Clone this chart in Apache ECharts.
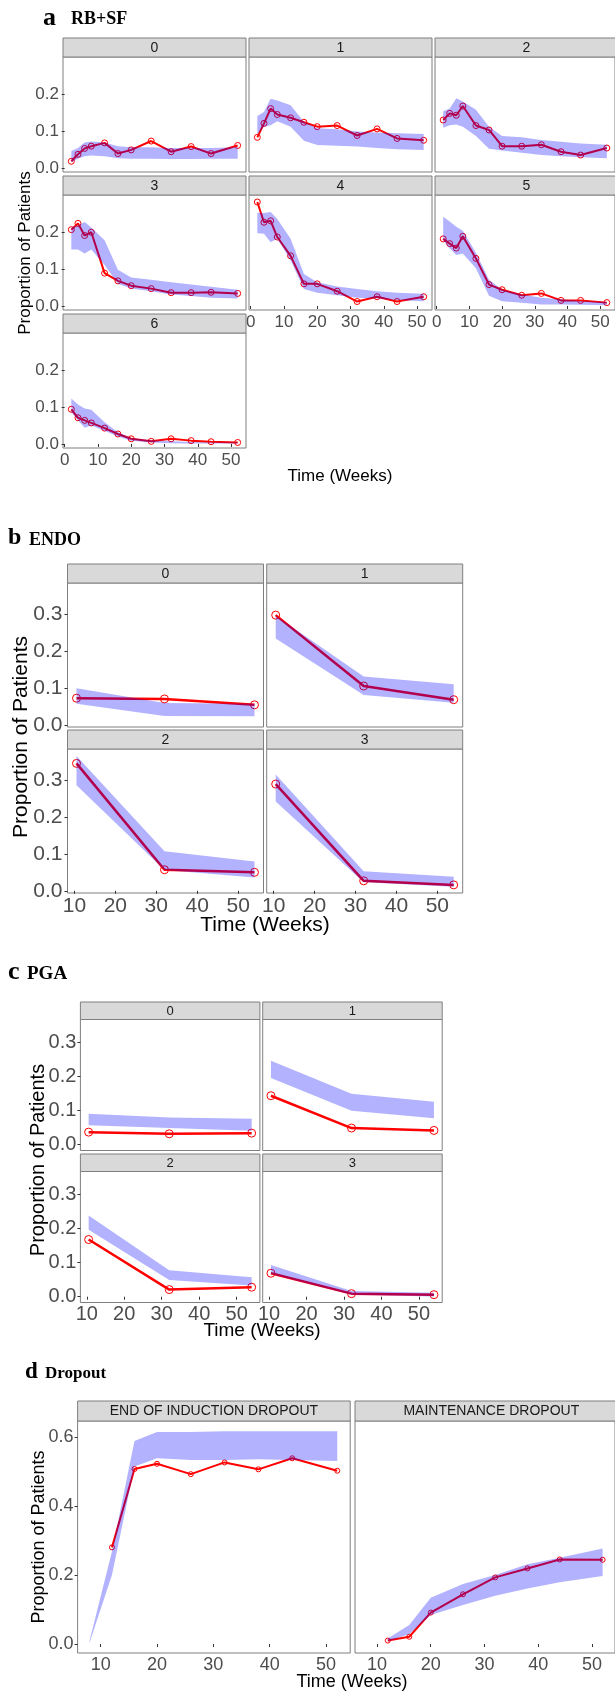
<!DOCTYPE html>
<html><head><meta charset="utf-8">
<script src="https://cdn.jsdelivr.net/npm/echarts@6/dist/echarts.min.js"></script>
<style>html,body{margin:0;padding:0;background:#fff}#c{width:615px;height:1692px}</style>
</head><body><div id="c"></div>
<script>
// ---------------- DATA ----------------
const rbsfWeeks = [2, 4, 6, 8, 12, 16, 20, 26, 32, 38, 44, 52];
const rbsfFacets = ['0', '1', '2', '3', '4', '5', '6'];
const rbsfObs = [
  [0.018, 0.037, 0.053, 0.059, 0.068, 0.039, 0.049, 0.073, 0.044, 0.058, 0.039, 0.061],
  [0.083, 0.121, 0.161, 0.145, 0.136, 0.124, 0.112, 0.115, 0.088, 0.106, 0.080, 0.075],
  [0.130, 0.148, 0.143, 0.168, 0.115, 0.103, 0.059, 0.059, 0.063, 0.044, 0.035, 0.054],
  [0.207, 0.224, 0.191, 0.200, 0.089, 0.068, 0.055, 0.047, 0.036, 0.036, 0.037, 0.034],
  [0.282, 0.227, 0.231, 0.187, 0.136, 0.060, 0.060, 0.040, 0.012, 0.025, 0.012, 0.025],
  [0.182, 0.169, 0.157, 0.189, 0.129, 0.058, 0.044, 0.029, 0.034, 0.015, 0.015, 0.009],
  [0.094, 0.071, 0.064, 0.057, 0.043, 0.027, 0.014, 0.007, 0.014, 0.009, 0.006, 0.004]
];
const rbsfLo = [
  [0.015, 0.025, 0.032, 0.034, 0.032, 0.026, 0.025, 0.025, 0.024, 0.024, 0.025, 0.025],
  [0.092, 0.112, 0.116, 0.127, 0.112, 0.074, 0.062, 0.060, 0.058, 0.054, 0.051, 0.049],
  [0.109, 0.116, 0.118, 0.112, 0.087, 0.052, 0.047, 0.041, 0.035, 0.032, 0.029, 0.026],
  [0.153, 0.153, 0.142, 0.153, 0.111, 0.060, 0.047, 0.040, 0.031, 0.027, 0.022, 0.020],
  [0.197, 0.196, 0.173, 0.182, 0.124, 0.046, 0.036, 0.029, 0.022, 0.020, 0.016, 0.013],
  [0.178, 0.156, 0.138, 0.142, 0.102, 0.028, 0.013, 0.009, 0.004, 0.004, 0.003, 0.002],
  [0.086, 0.064, 0.044, 0.050, 0.036, 0.020, 0.009, 0.004, 0.002, 0.001, 0.001, 0.001]
];
const rbsfHi = [
  [0.046, 0.054, 0.069, 0.072, 0.069, 0.059, 0.056, 0.056, 0.054, 0.054, 0.054, 0.056],
  [0.141, 0.152, 0.188, 0.183, 0.170, 0.125, 0.108, 0.105, 0.099, 0.096, 0.094, 0.092],
  [0.154, 0.161, 0.189, 0.180, 0.158, 0.112, 0.087, 0.083, 0.076, 0.071, 0.066, 0.063],
  [0.213, 0.218, 0.228, 0.213, 0.178, 0.098, 0.077, 0.071, 0.064, 0.058, 0.052, 0.044],
  [0.253, 0.252, 0.255, 0.236, 0.182, 0.087, 0.064, 0.053, 0.046, 0.040, 0.036, 0.033],
  [0.242, 0.229, 0.215, 0.204, 0.144, 0.071, 0.044, 0.031, 0.022, 0.018, 0.013, 0.011],
  [0.123, 0.107, 0.096, 0.093, 0.059, 0.032, 0.016, 0.010, 0.007, 0.005, 0.004, 0.004]
];

const endoWeeks = [10.5, 32, 54];
const endoFacets = ['0', '1', '2', '3'];
const endoObs = [[0.072, 0.070, 0.054], [0.297, 0.105, 0.068], [0.345, 0.057, 0.050], [0.289, 0.027, 0.016]];
const endoLo  = [[0.057, 0.024, 0.023], [0.234, 0.081, 0.060], [0.286, 0.056, 0.036], [0.242, 0.023, 0.011]];
const endoHi  = [[0.099, 0.059, 0.057], [0.295, 0.131, 0.110], [0.365, 0.107, 0.079], [0.315, 0.053, 0.038]];

const pgaWeeks = [10.5, 32, 54];
const pgaFacets = ['0', '1', '2', '3'];
const pgaObs = [[0.037, 0.032, 0.034], [0.144, 0.049, 0.042], [0.168, 0.021, 0.028], [0.069, 0.009, 0.006]];
const pgaLo  = [[0.057, 0.049, 0.041], [0.196, 0.100, 0.078], [0.197, 0.049, 0.033], [0.067, 0.006, 0.001]];
const pgaHi  = [[0.091, 0.080, 0.076], [0.247, 0.150, 0.126], [0.239, 0.078, 0.057], [0.093, 0.017, 0.012]];

const dropFacets = ['END OF INDUCTION DROPOUT', 'MAINTENANCE DROPOUT'];
const dropObsWeeks = [12, 16, 20, 26, 32, 38, 44, 52];
const dropObs = [
  [0.280, 0.507, 0.522, 0.492, 0.526, 0.506, 0.538, 0.502],
  [0.010, 0.021, 0.091, 0.144, 0.193, 0.219, 0.245, 0.244]
];
const dropBandWeeks = [[8, 12, 16, 20, 26, 32, 38, 44, 52], [12, 16, 20, 26, 32, 38, 44, 52]];
const dropLo = [
  [0.003, 0.200, 0.514, 0.538, 0.533, 0.533, 0.535, 0.533, 0.530],
  [0.007, 0.029, 0.084, 0.113, 0.140, 0.161, 0.179, 0.197]
];
const dropHi = [
  [0.008, 0.268, 0.588, 0.614, 0.614, 0.616, 0.616, 0.616, 0.616],
  [0.016, 0.055, 0.134, 0.174, 0.200, 0.231, 0.250, 0.277]
];

const yTicksA = [0, 0.1, 0.2];
const xTicksA = [0, 10, 20, 30, 40, 50];
const yTicksBC = [0, 0.1, 0.2, 0.3];
const xTicksBC = [10, 20, 30, 40, 50];
const yTicksD = [0, 0.2, 0.4, 0.6];
const xTicksD = [10, 20, 30, 40, 50];

// ---------------- BUILD ----------------
const SANS = "'Liberation Sans', Arial, sans-serif";
const SERIF = "'Liberation Serif', 'Times New Roman', serif";
const grids = [], xAxes = [], yAxes = [], series = [], graphics = [];

function facet(p) {
  const gi = grids.length;
  grids.push({left: p.x, top: p.y + p.sh, width: p.w, height: p.ph, show: true,
    backgroundColor: '#fff', borderColor: '#7f7f7f', borderWidth: 1});
  const lbl = {fontFamily: SANS, fontSize: p.fs, color: '#4d4d4d'};
  xAxes.push({type: 'value', gridIndex: gi, min: p.xmin, max: p.xmax,
    axisLine: {show: false}, splitLine: {show: false},
    axisTick: {show: p.showX, length: 3, customValues: p.xt, lineStyle: {color: '#333'}},
    axisLabel: Object.assign({show: p.showX, customValues: p.xt, margin: p.xm, formatter: v => String(v)}, lbl)});
  yAxes.push({type: 'value', gridIndex: gi, min: p.ymin, max: p.ymax,
    axisLine: {show: false}, splitLine: {show: false},
    axisTick: {show: p.showY, length: 3, customValues: p.yt, lineStyle: {color: '#333'}},
    axisLabel: Object.assign({show: p.showY, customValues: p.yt, margin: p.ym, formatter: v => v.toFixed(1)}, lbl)});
  graphics.push({type: 'rect', z: 10, shape: {x: p.x, y: p.y, width: p.w, height: p.sh},
    style: {fill: '#d9d9d9', stroke: '#7f7f7f', lineWidth: 1}});
  graphics.push({type: 'text', z: 11, x: p.x + p.w / 2, y: p.y + p.sh / 2 + 0.5,
    style: {text: p.label, fontFamily: SANS, fontSize: p.sfs, fill: '#1a1a1a', align: 'center', verticalAlign: 'middle'}});
  // observed: red line with hollow circles
  series.push({type: 'line', xAxisIndex: gi, yAxisIndex: gi, z: 2, silent: true,
    data: p.ow.map((w, i) => [w, p.obs[i]]),
    symbol: 'circle', symbolSize: p.ss, showSymbol: true,
    lineStyle: {color: '#ff0000', width: p.lw},
    itemStyle: {color: 'rgba(255,255,255,0)', borderColor: '#ff0000', borderWidth: 1}});
  // prediction interval band (drawn on top, semi-transparent)
  const bandData = p.bw.map((w, i) => [w, p.lo[i], p.hi[i]]);
  series.push({type: 'custom', xAxisIndex: gi, yAxisIndex: gi, z: 3, silent: true, clip: true,
    data: bandData,
    encode: {x: 0, y: [1, 2]},
    renderItem: function (params, api) {
      if (params.dataIndex !== 0) return null;
      const upper = bandData.map(d => api.coord([d[0], d[2]]));
      const lower = bandData.map(d => api.coord([d[0], d[1]])).reverse();
      return {type: 'polygon', shape: {points: upper.concat(lower)},
        style: {fill: 'rgba(0,0,255,0.3)', stroke: null}};
    }});
}

function text(x, y, str, size, opts) {
  graphics.push(Object.assign({type: 'text', z: 12, x: x, y: y,
    style: Object.assign({text: str, fontFamily: SANS, fontSize: size, fill: '#000', align: 'center', verticalAlign: 'middle'}, opts && opts.style || {})},
    opts && opts.el || {}));
}

// Panel a (RB+SF)
const colsA = [63, 249, 435], rowsA = [38, 176, 314];
rbsfFacets.forEach((lab, k) => {
  const r = Math.floor(k / 3), c = k % 3;
  facet({x: colsA[c], y: rowsA[r], w: 183, sh: 19, ph: 115, label: lab, sfs: 14, fs: 17,
    xmin: -0.5, xmax: 54.5, ymin: -0.011, ymax: 0.301, xt: xTicksA, yt: yTicksA,
    showX: k >= 4, showY: c === 0, xm: 4, ym: 4,
    ow: rbsfWeeks, bw: rbsfWeeks, obs: rbsfObs[k], lo: rbsfLo[k], hi: rbsfHi[k], ss: 6, lw: 2});
});
// Panel b (ENDO)
const colsB = [67.5, 266.7], rowsB = [564, 730];
endoFacets.forEach((lab, k) => {
  const r = Math.floor(k / 2), c = k % 2;
  facet({x: colsB[c], y: rowsB[r], w: 196, sh: 19, ph: 144, label: lab, sfs: 14, fs: 21,
    xmin: 8.3, xmax: 56.2, ymin: -0.006, ymax: 0.384, xt: xTicksBC, yt: yTicksBC,
    showX: r === 1, showY: c === 0, xm: 3, ym: 5,
    ow: endoWeeks, bw: endoWeeks, obs: endoObs[k], lo: endoLo[k], hi: endoHi[k], ss: 8, lw: 2.5});
});
// Panel c (PGA)
const colsC = [80.4, 262.7], rowsC = [1002, 1154];
pgaFacets.forEach((lab, k) => {
  const r = Math.floor(k / 2), c = k % 2;
  facet({x: colsC[c], y: rowsC[r], w: 179.5, sh: 17.5, ph: 131, label: lab, sfs: 13, fs: 20,
    xmin: 8.3, xmax: 56.2, ymin: -0.017, ymax: 0.368, xt: xTicksBC, yt: yTicksBC,
    showX: r === 1, showY: c === 0, xm: 2, ym: 4,
    ow: pgaWeeks, bw: pgaWeeks, obs: pgaObs[k], lo: pgaLo[k], hi: pgaHi[k], ss: 8, lw: 2.5});
});
// Panel d (Dropout)
const colsD = [77.6, 355];
dropFacets.forEach((lab, k) => {
  facet({x: colsD[k], y: 1401, w: 272.6, sh: 20, ph: 232, label: lab, sfs: 14, fs: 18,
    xmin: 5.9, xmax: 54.3, ymin: -0.026, ymax: 0.646, xt: xTicksD, yt: yTicksD,
    showX: true, showY: k === 0, xm: 3, ym: 4,
    ow: dropObsWeeks, bw: dropBandWeeks[k], obs: dropObs[k], lo: dropLo[k], hi: dropHi[k], ss: 5, lw: 2});
});

// Panel titles
const tl = {style: {fontFamily: SERIF, fontWeight: 'bold', align: 'left'}};
text(43, 18, 'a', 26, tl); text(71, 19, 'RB+SF', 18, tl);
text(8, 538, 'b', 24, tl); text(29, 540, 'ENDO', 18, tl);
text(8, 972, 'c', 26, tl); text(27, 974, 'PGA', 19, tl);
text(25, 1372, 'd', 23, tl); text(45, 1374, 'Dropout', 17, tl);

// Axis titles
const rot = {el: {rotation: Math.PI / 2}};
text(25, 253, 'Proportion of Patients', 17, rot);
text(21.5, 737, 'Proportion of Patients', 21, rot);
text(38, 1160, 'Proportion of Patients', 20, rot);
text(39, 1537, 'Proportion of Patients', 18, rot);
text(340, 476, 'Time (Weeks)', 17);
text(265, 925, 'Time (Weeks)', 21);
text(262, 1331, 'Time (Weeks)', 19);
text(352, 1682, 'Time (Weeks)', 18);

const chart = echarts.init(document.getElementById('c'), null, {renderer: 'canvas', width: 615, height: 1692});
chart.setOption({
  animation: false,
  backgroundColor: '#fff',
  grid: grids, xAxis: xAxes, yAxis: yAxes, series: series,
  graphic: {elements: graphics}
});
</script></body></html>
